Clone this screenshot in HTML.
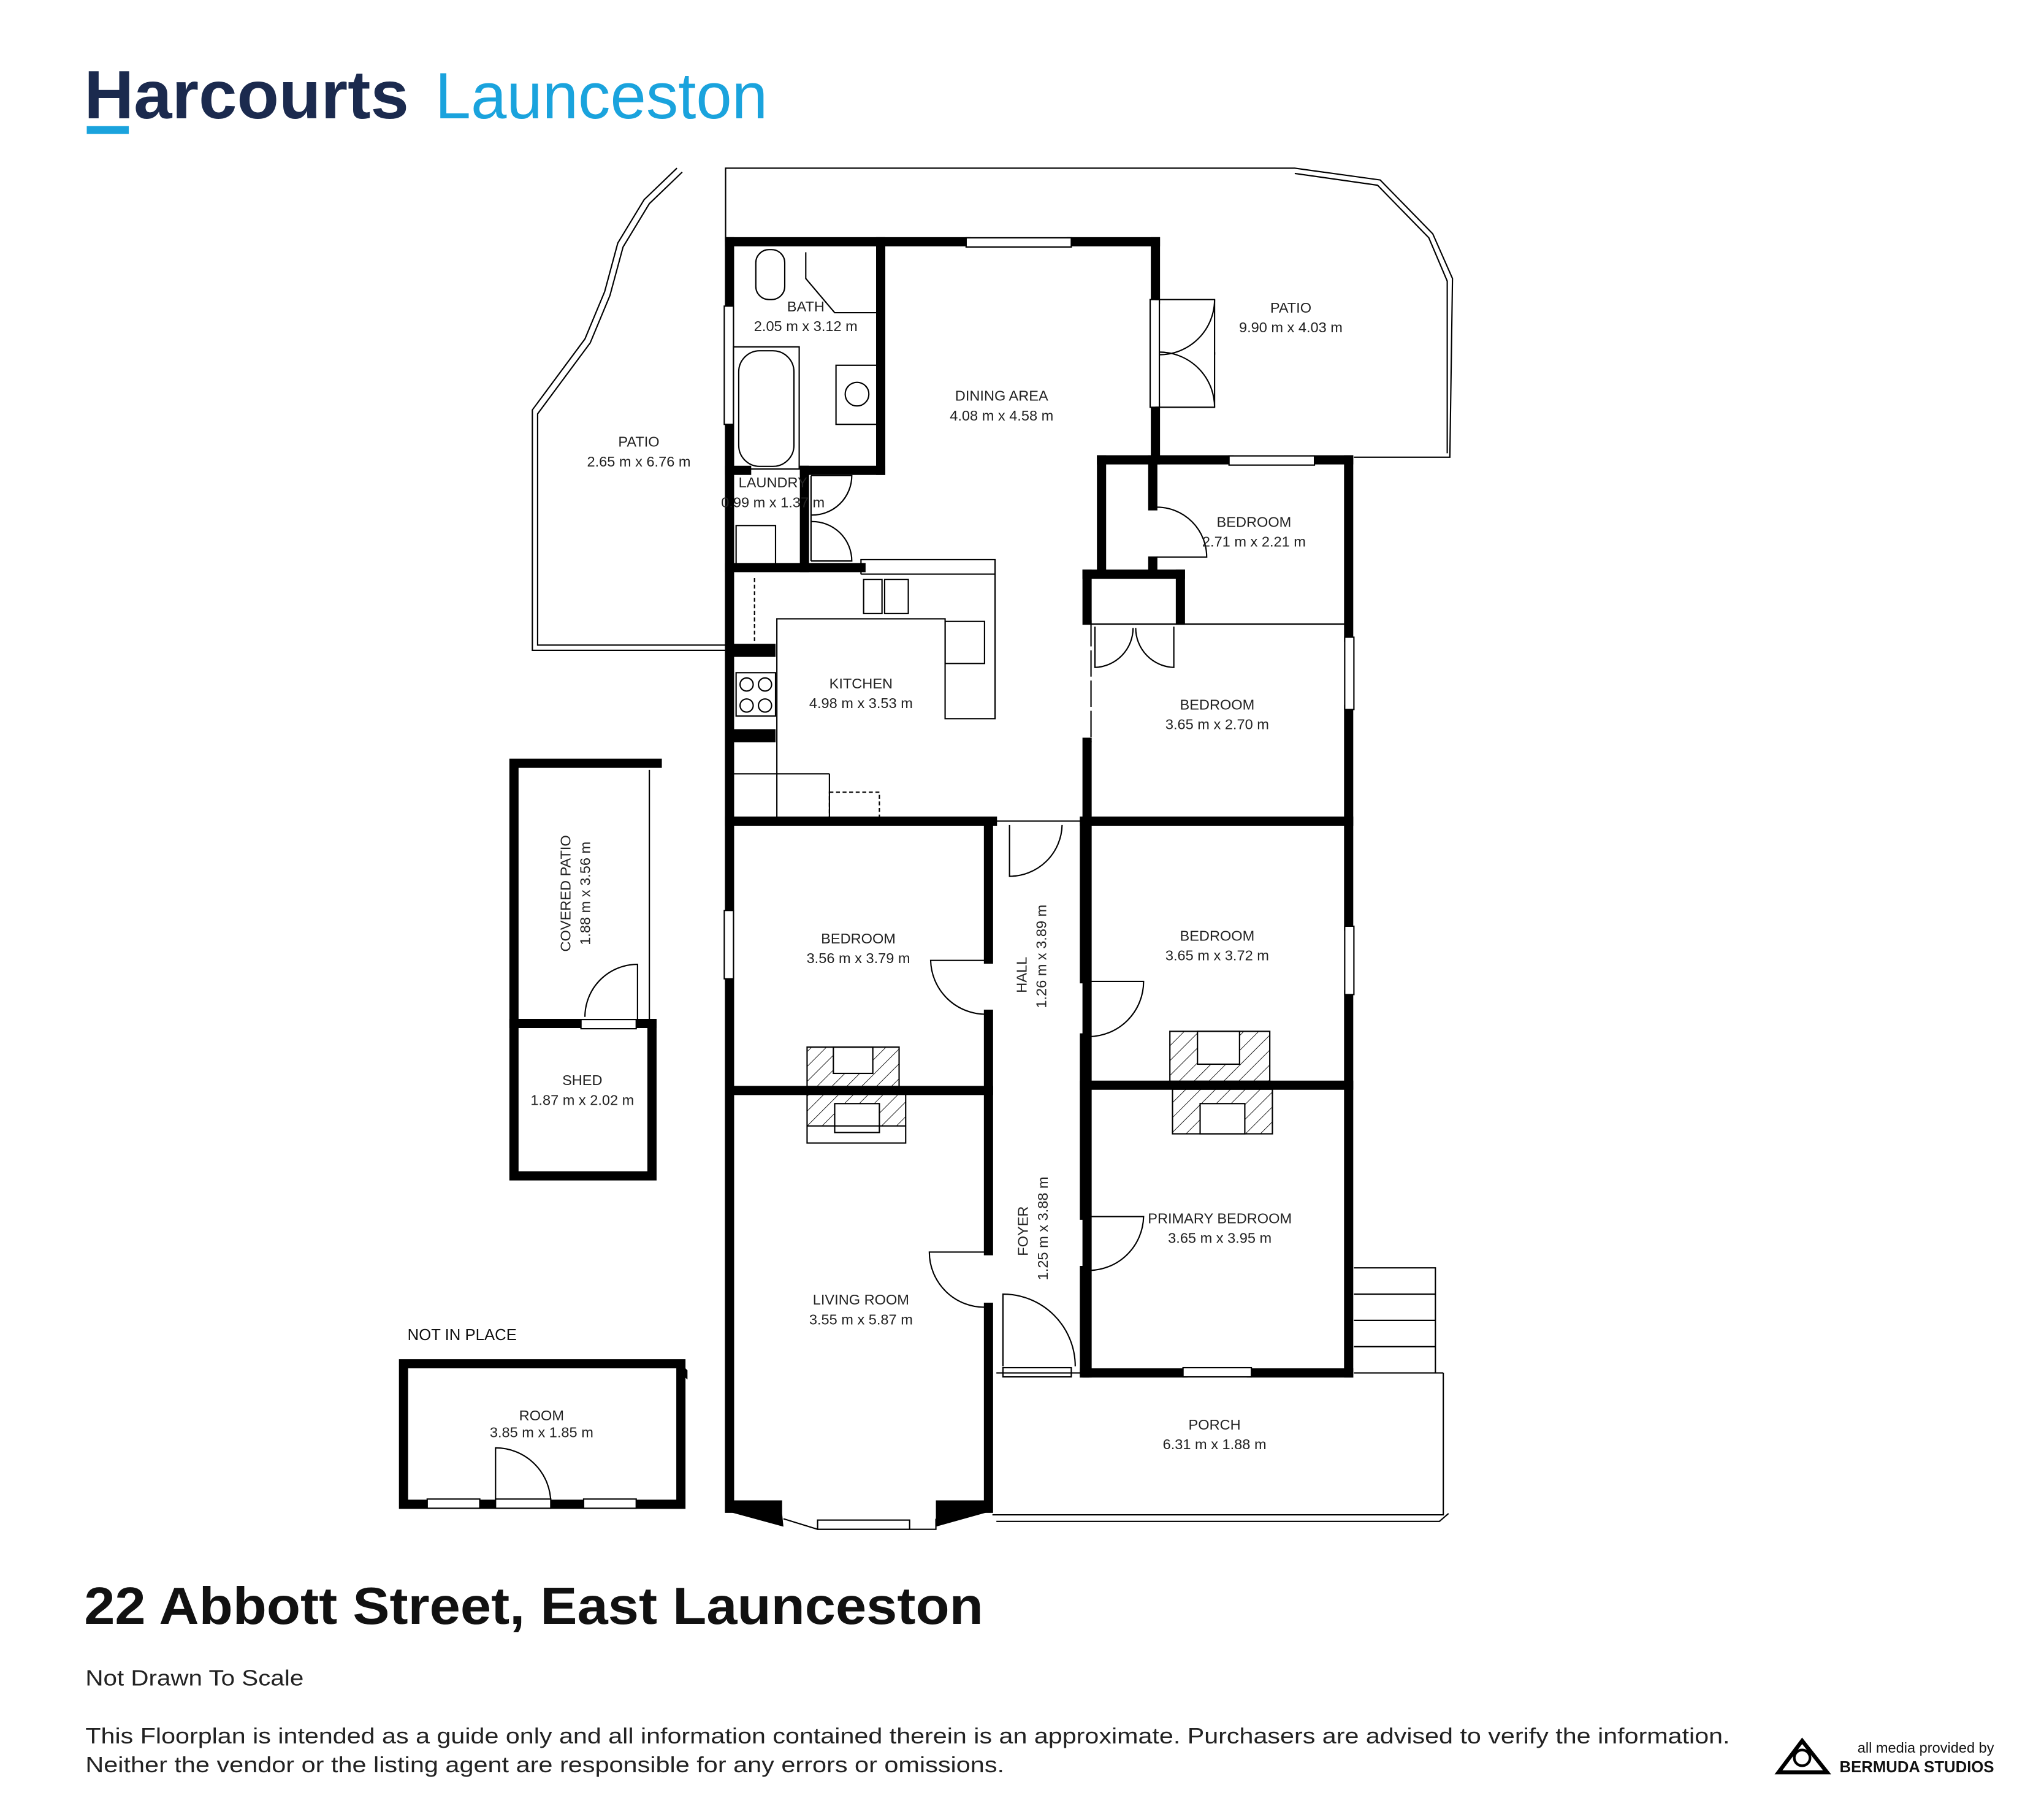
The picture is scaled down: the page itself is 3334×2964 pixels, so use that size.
<!DOCTYPE html>
<html><head><meta charset="utf-8"><style>
html,body{margin:0;padding:0;background:#fff;}
svg{display:block;}
.w{stroke:#000;stroke-width:7;fill:none;stroke-linecap:square}
.t{stroke:#000;stroke-width:1;fill:none}
.win{fill:#fff;stroke:#000;stroke-width:1}
.lbl{font-family:"Liberation Sans Narrow","Liberation Sans",sans-serif;font-size:11px;fill:#222;text-anchor:middle}
</style></head><body>
<svg width="3334" height="2964" viewBox="0 0 1555 1383" preserveAspectRatio="none" xmlns="http://www.w3.org/2000/svg">
<defs>
<pattern id="h" patternUnits="userSpaceOnUse" width="8" height="8" patternTransform="rotate(45)">
<line x1="0" y1="0" x2="0" y2="8" stroke="#000" stroke-width="0.8"/>
</pattern>
</defs>
<rect width="1555" height="1383" fill="#fff"/>
<!-- Header -->
<text x="64" y="90" font-family="Liberation Sans,sans-serif" font-weight="bold" font-size="52" fill="#1b2a4e" textLength="247" lengthAdjust="spacingAndGlyphs">Harcourts</text>
<rect x="66" y="96" width="32" height="6" fill="#1aa3dd"/>
<text x="331" y="90" font-family="Liberation Sans,sans-serif" font-size="50" fill="#1aa3dd" textLength="253" lengthAdjust="spacingAndGlyphs">Launceston</text>

<!-- Patio outlines -->
<polyline class="t" points="552,184 552,128 985,128 1050,137 1090,178 1105,212 1103,348 1030,348"/>
<polyline class="t" points="515,128 490,152 470,185 460,222 445,258 405,312 405,495 552,495"/>
<polyline class="t" points="519,131 494,155 474,188 464,225 449,261 409,315 409,491 552,491"/>
<polyline class="t" points="985,132 1048,141 1087,181 1101,214 1101,345"/>

<!-- Main walls -->
<g class="w">
<line x1="555" y1="184" x2="735" y2="184"/><line x1="815" y1="184" x2="879" y2="184"/>
<line x1="555" y1="184" x2="555" y2="1148"/>
<line x1="879" y1="184" x2="879" y2="228"/><line x1="879" y1="310" x2="879" y2="350"/>
<line x1="670" y1="184" x2="670" y2="358"/>
<line x1="555" y1="358" x2="568" y2="358"/><line x1="612" y1="358" x2="670" y2="358"/>
<line x1="612" y1="358" x2="612" y2="432"/>
<line x1="555" y1="432" x2="655" y2="432"/>
<line x1="838" y1="350" x2="935" y2="350"/><line x1="1000" y1="350" x2="1026" y2="350"/>
<line x1="1026" y1="350" x2="1026" y2="485"/><line x1="1026" y1="540" x2="1026" y2="705"/><line x1="1026" y1="757" x2="1026" y2="1045"/>
<line x1="838" y1="350" x2="838" y2="435"/><line x1="877" y1="350" x2="877" y2="385"/><line x1="877" y1="427" x2="877" y2="435"/>
<line x1="827" y1="437" x2="898" y2="437"/><line x1="827" y1="437" x2="827" y2="472"/><line x1="898" y1="437" x2="898" y2="472"/>
<line x1="827" y1="565" x2="827" y2="1045"/>
<line x1="555" y1="625" x2="755" y2="625"/><line x1="825" y1="625" x2="1026" y2="625"/>
<line x1="752" y1="625" x2="752" y2="730"/><line x1="752" y1="772" x2="752" y2="952"/><line x1="752" y1="995" x2="752" y2="1148"/>
<line x1="825" y1="625" x2="825" y2="745"/><line x1="825" y1="790" x2="825" y2="925"/><line x1="825" y1="967" x2="825" y2="1045"/>
<line x1="558" y1="830" x2="752" y2="830"/><line x1="825" y1="826" x2="1026" y2="826"/>
<line x1="825" y1="1045" x2="900" y2="1045"/><line x1="952" y1="1045" x2="1026" y2="1045"/>
</g>
<line x1="1026" y1="475" x2="1026" y2="485" stroke="#000" stroke-width="5"/>
<!-- living room bay -->
<polygon points="552,1142 595,1142 595,1152 596,1162 552,1150" fill="#000"/>
<polygon points="712,1142 755,1142 755,1150 712,1162" fill="#000"/>
<polyline class="t" points="596,1156 622,1164 712,1164 712,1156"/>
<rect class="win" x="622" y="1157" width="70" height="7"/>
<!-- kitchen side stubs -->
<rect x="557" y="490" width="33" height="10" fill="#000"/>
<rect x="557" y="555" width="33" height="10" fill="#000"/>
<!-- windows -->
<rect class="win" x="735" y="181" width="80" height="7"/>
<rect class="win" x="551" y="233" width="7" height="90"/>
<rect class="win" x="935" y="347" width="65" height="7"/>
<rect class="win" x="1023" y="485" width="7" height="55"/>
<rect class="win" x="551" y="693" width="7" height="52"/>
<rect class="win" x="1023" y="705" width="7" height="52"/>
<rect class="win" x="900" y="1041" width="52" height="7"/>
<rect class="win" x="763" y="1041" width="52" height="7"/>
<rect class="win" x="875" y="228" width="7" height="82"/>
<!-- fireplaces hatch -->
<rect x="614" y="797" width="70" height="30" fill="url(#h)"/>
<rect x="614" y="832" width="75" height="25" fill="url(#h)"/>
<rect x="890" y="785" width="76" height="38" fill="url(#h)"/>
<rect x="892" y="829" width="76" height="34" fill="url(#h)"/>
<rect x="634" y="797" width="30" height="20" fill="#fff"/>
<rect x="635" y="840" width="34" height="17" fill="#fff"/>
<rect x="911" y="785" width="32" height="25" fill="#fff"/>
<rect x="913" y="840" width="34" height="23" fill="#fff"/>
<!-- thin lines -->
<g class="t">
<line x1="830" y1="475" x2="1026" y2="475"/>
<line x1="830" y1="472" x2="830" y2="565" stroke-dasharray="20,3"/>
<line x1="758" y1="1045" x2="825" y2="1045"/>
<line x1="756" y1="625" x2="825" y2="625"/>
<!-- doors -->
<path d="M879 228 H924 A42 42 0 0 1 882 270"/><path d="M879 310 H924 A42 42 0 0 0 882 268"/>
<line x1="924" y1="228" x2="924" y2="270"/><line x1="924" y1="268" x2="924" y2="310"/>
<path d="M880 386 A38 38 0 0 1 918 424 H880"/>
<path d="M617 362 H648 A30 30 0 0 1 617 392"/><path d="M617 427 H648 A30 30 0 0 0 617 397"/>
<line x1="617" y1="362" x2="617" y2="427"/>
<path d="M833 477 V508 A30 30 0 0 0 862 478"/><path d="M893 477 V508 A30 30 0 0 1 864 478"/>
<path d="M768 628 V667 A40 40 0 0 0 808 628"/>
<path d="M750 731 H708 A42 42 0 0 0 750 772"/>
<path d="M828 747 H870 A42 42 0 0 1 828 789"/>
<path d="M828 926 H870 A42 42 0 0 1 828 967"/>
<path d="M750 953 H707 A42 42 0 0 0 750 995"/>
<path d="M763 1040 V985 A55 55 0 0 1 818 1040"/>
<!-- bath fixtures -->
<rect x="575" y="190" width="22" height="38" rx="10"/>
<polyline points="613,192 613,212 635,238 670,238"/>
<rect x="562" y="267" width="42" height="88" rx="16"/>
<rect x="558" y="264" width="50" height="93"/>
<rect x="636" y="278" width="32" height="45"/>
<circle cx="652" cy="300" r="9"/>
<line x1="620" y1="357" x2="643" y2="357"/>
<!-- laundry sink -->
<rect x="560" y="400" width="30" height="30"/>
<!-- kitchen -->
<polyline points="655,437 655,426 757,426 757,547 719,547 719,471 591,471 591,625"/>
<line x1="655" y1="437" x2="757" y2="437"/>
<rect x="657" y="441" width="14" height="26"/><rect x="673" y="441" width="18" height="26"/>
<rect x="719" y="473" width="30" height="32"/>
<rect x="560" y="512" width="30" height="33"/>
<circle cx="568" cy="521" r="5"/><circle cx="582" cy="521" r="5"/><circle cx="568" cy="537" r="5"/><circle cx="582" cy="537" r="5"/>
<line x1="558" y1="589" x2="631" y2="589"/><line x1="631" y1="589" x2="631" y2="625"/>
<rect x="631" y="603" width="38" height="20" stroke-dasharray="3,2"/>
<line x1="574" y1="440" x2="574" y2="490" stroke-dasharray="3,2"/>
<!-- fireplaces outlines -->
<rect x="614" y="797" width="70" height="30"/><rect x="634" y="797" width="30" height="20"/>
<rect x="614" y="832" width="75" height="38"/><rect x="635" y="840" width="34" height="22"/><line x1="614" y1="857" x2="689" y2="857"/>
<rect x="890" y="785" width="76" height="38"/><rect x="911" y="785" width="32" height="25"/>
<rect x="892" y="829" width="76" height="34"/><rect x="913" y="840" width="34" height="23"/>
<!-- stairs / porch -->
<polyline points="1030,965 1092,965 1092,1045"/>
<line x1="1030" y1="985" x2="1092" y2="985"/><line x1="1030" y1="1005" x2="1092" y2="1005"/>
<line x1="1030" y1="1025" x2="1092" y2="1025"/><line x1="1030" y1="1045" x2="1098" y2="1045"/>
<polyline points="755,1153 1098,1153 1098,1045"/>
<polyline points="758,1158 1095,1158 1102,1152"/>
<!-- covered patio, shed -->
<line x1="494" y1="586" x2="494" y2="776"/>
<path d="M485 776 V734 A40 40 0 0 0 445 774"/>
<!-- room -->
<path d="M377 1145 V1102 A42 42 0 0 1 419 1144"/>
</g>
<!-- shed walls -->
<g class="w">
<polyline points="500,581 391,581 391,895 496,895 496,779 391,779"/>
<line x1="391" y1="779" x2="442" y2="779"/><line x1="484" y1="779" x2="496" y2="779"/>
<polyline points="518,1038 307,1038 307,1145 518,1145 518,1038"/>
</g>
<rect class="win" x="442" y="776" width="42" height="7"/>
<rect class="win" x="325" y="1141" width="40" height="7"/>
<rect class="win" x="377" y="1141" width="42" height="7"/>
<rect class="win" x="444" y="1141" width="40" height="7"/>
<polygon points="515,1035 523,1043 523,1050 515,1043" fill="#000"/>
<!-- labels -->
<text class="lbl" x="613" y="237">BATH</text><text class="lbl" x="613" y="252">2.05 m x 3.12 m</text>
<text class="lbl" x="762" y="305">DINING AREA</text><text class="lbl" x="762" y="320">4.08 m x 4.58 m</text>
<text class="lbl" x="982" y="238">PATIO</text><text class="lbl" x="982" y="253">9.90 m x 4.03 m</text>
<text class="lbl" x="486" y="340">PATIO</text><text class="lbl" x="486" y="355">2.65 m x 6.76 m</text>
<text class="lbl" x="588" y="371">LAUNDRY</text><text class="lbl" x="588" y="386">0.99 m x 1.37 m</text>
<text class="lbl" x="954" y="401">BEDROOM</text><text class="lbl" x="954" y="416">2.71 m x 2.21 m</text>
<text class="lbl" x="655" y="524">KITCHEN</text><text class="lbl" x="655" y="539">4.98 m x 3.53 m</text>
<text class="lbl" x="926" y="540">BEDROOM</text><text class="lbl" x="926" y="555">3.65 m x 2.70 m</text>
<text class="lbl" x="653" y="718">BEDROOM</text><text class="lbl" x="653" y="733">3.56 m x 3.79 m</text>
<text class="lbl" x="926" y="716">BEDROOM</text><text class="lbl" x="926" y="731">3.65 m x 3.72 m</text>
<text class="lbl" x="443" y="826">SHED</text><text class="lbl" x="443" y="841">1.87 m x 2.02 m</text>
<text class="lbl" x="928" y="931">PRIMARY BEDROOM</text><text class="lbl" x="928" y="946">3.65 m x 3.95 m</text>
<text class="lbl" x="655" y="993">LIVING ROOM</text><text class="lbl" x="655" y="1008">3.55 m x 5.87 m</text>
<text class="lbl" x="924" y="1088">PORCH</text><text class="lbl" x="924" y="1103">6.31 m x 1.88 m</text>
<text class="lbl" x="412" y="1081">ROOM</text><text class="lbl" x="412" y="1094">3.85 m x 1.85 m</text>
<text class="lbl" transform="translate(434,680) rotate(-90)">COVERED PATIO</text>
<text class="lbl" transform="translate(449,680) rotate(-90)">1.88 m x 3.56 m</text>
<text class="lbl" transform="translate(781,742) rotate(-90)">HALL</text>
<text class="lbl" transform="translate(796,728) rotate(-90)">1.26 m x 3.89 m</text>
<text class="lbl" transform="translate(782,937) rotate(-90)">FOYER</text>
<text class="lbl" transform="translate(797,935) rotate(-90)">1.25 m x 3.88 m</text>
<text x="310" y="1020" font-family="Liberation Sans,sans-serif" font-size="12" fill="#111">NOT IN PLACE</text>
<!-- footer -->
<text x="64" y="1236" font-family="Liberation Sans,sans-serif" font-weight="bold" font-size="40" fill="#111" textLength="684" lengthAdjust="spacingAndGlyphs">22 Abbott Street, East Launceston</text>
<text x="65" y="1283" font-family="Liberation Sans,sans-serif" font-size="17" fill="#222" textLength="166" lengthAdjust="spacingAndGlyphs">Not Drawn To Scale</text>
<text x="65" y="1327" font-family="Liberation Sans,sans-serif" font-size="17" fill="#222" textLength="1251" lengthAdjust="spacingAndGlyphs">This Floorplan is intended as a guide only and all information contained therein is an approximate. Purchasers are advised to verify the information.</text>
<text x="65" y="1349" font-family="Liberation Sans,sans-serif" font-size="17" fill="#222" textLength="699" lengthAdjust="spacingAndGlyphs">Neither the vendor or the listing agent are responsible for any errors or omissions.</text>
<polygon points="1371,1325 1353,1349 1390,1349" fill="none" stroke="#000" stroke-width="3"/>
<circle cx="1371" cy="1338" r="6" fill="#fff" stroke="#000" stroke-width="2"/>
<text x="1517" y="1334" text-anchor="end" font-family="Liberation Sans,sans-serif" font-size="11" fill="#111">all media provided by</text>
<text x="1517" y="1349" text-anchor="end" font-family="Liberation Sans,sans-serif" font-weight="bold" font-size="12" fill="#111">BERMUDA STUDIOS</text>
</svg>
</body></html>
